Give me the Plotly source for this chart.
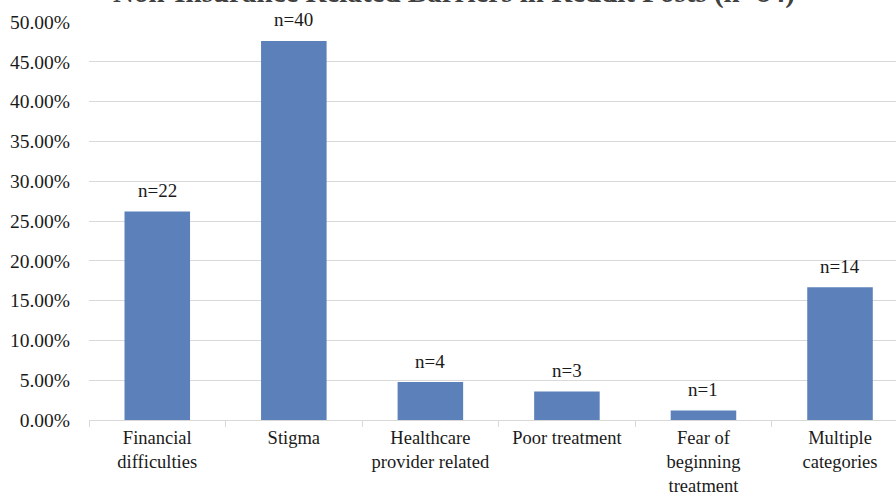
import plotly.graph_objects as go

categories = ["Financial<br>difficulties", "Stigma", "Healthcare<br>provider related",
              "Poor treatment", "Fear of<br>beginning<br>treatment", "Multiple<br>categories"]
counts = [22, 40, 4, 3, 1, 14]
total = 84
shares = [c / total for c in counts]
labels = [f"n={c}" for c in counts]
title_text = "Non-Insurance Related Barriers in Reddit Posts (n=84)"

FONT = "Liberation Serif"
TXT = "#1a1a1a"

fig = go.Figure()
fig.add_trace(go.Bar(
    x=categories, y=shares, marker=dict(color="#5B80BA", line=dict(width=0)),
    width=0.48, hoverinfo="skip",
))

for cat, val, lab in zip(categories, shares, labels):
    fig.add_annotation(x=cat, y=val, text=lab, showarrow=False, xref="x", yref="y",
                       yanchor="middle", yshift=21,
                       font=dict(family=FONT, size=19, color=TXT))

fig.add_annotation(x=0.4526, y=1.028, xref="paper", yref="paper", text=title_text,
                   showarrow=False, yanchor="bottom",
                   font=dict(family=FONT, size=29, color="#404040", weight="bold"))

fig.update_layout(
    width=896, height=493,
    margin=dict(l=88.6, r=0, t=22, b=73, autoexpand=False),
    paper_bgcolor="white", plot_bgcolor="white",
    showlegend=False,
    font=dict(family=FONT, size=19, color=TXT),
)
fig.update_xaxes(
    type="category", range=[-0.5, 5.41], automargin=False,
    showline=True, linecolor="#d9d9d9", linewidth=1.3,
    ticks="outside", tickson="boundaries", ticklen=6, tickcolor="#d9d9d9",
    ticklabelstandoff=1,
    tickfont=dict(family=FONT, size=18.5, color=TXT),
    showgrid=False,
)
fig.update_yaxes(
    range=[0, 0.5], dtick=0.05, tickformat=".2%", automargin=False,
    showgrid=True, gridcolor="#d9d9d9", gridwidth=1.3,
    zeroline=False, showline=False,
    ticklabelstandoff=18,
    tickfont=dict(family=FONT, size=19.5, color=TXT),
)

fig.write_html("out.html")
